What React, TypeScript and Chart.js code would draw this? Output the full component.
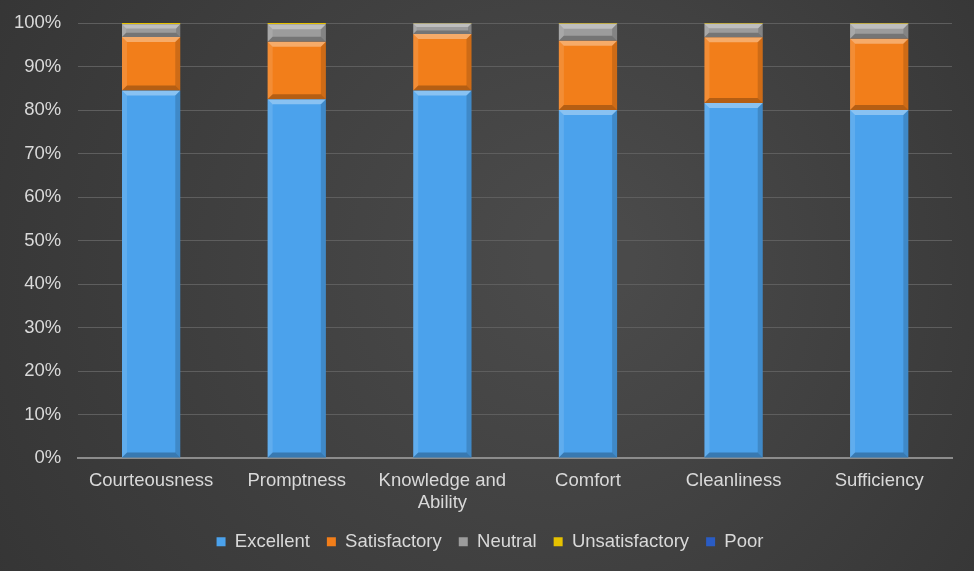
import React, { useEffect, useRef } from "react";
import { Chart, registerables } from "chart.js";

Chart.register(...registerables);

const categories = ["Courteousness", "Promptness", ["Knowledge and", "Ability"], "Comfort", "Cleanliness", "Sufficiency"];
const excellent = [84.5, 82.5, 84.5, 80.0, 81.6, 80.0];
const satisfactory = [12.3, 13.2, 13.0, 15.9, 15.1, 16.4];
const neutral = [2.9, 4.0, 2.4, 3.9, 3.1, 3.4];
const unsatisfactory = [0.3, 0.3, 0.1, 0.2, 0.2, 0.2];
const poor = [0, 0, 0, 0, 0, 0];
const seriesNames = ["Excellent", "Satisfactory", "Neutral", "Unsatisfactory", "Poor"];
const seriesColors = ["#4ba2ec", "#f27e1a", "#9c9c9c", "#e6c200", "#2a5cc4"];

const FONT = "'Liberation Sans', Arial, sans-serif";

const bgPlugin = {
  id: "bgGrad",
  beforeDraw(chart: any) {
    const { ctx, width, height } = chart;
    const g = ctx.createRadialGradient(width * 0.6, height * 0.45, 50, width * 0.5, height * 0.5, width * 0.75);
    g.addColorStop(0, "#4a4a4a");
    g.addColorStop(1, "#303030");
    ctx.save();
    ctx.fillStyle = g;
    ctx.fillRect(0, 0, width, height);
    ctx.restore();
  },
};

const legendShift = {
  id: "legendShift",
  afterLayout(chart: any) {
    if (chart.legend) {
      chart.legend.left += 9;
      chart.legend.right += 9;
    }
  },
};

const bevelPlugin = {
  id: "bevel",
  afterDatasetsDraw(chart: any) {
    const ctx = chart.ctx;
    chart.data.datasets.forEach((ds: any, di: number) => {
      const meta = chart.getDatasetMeta(di);
      meta.data.forEach((bar: any) => {
        const { x, y, base, width } = bar.getProps(["x", "y", "base", "width"], true);
        const top = Math.min(y, base);
        const bot = Math.max(y, base);
        const h = bot - top;
        if (h < 3) return;
        const l = x - width / 2;
        const r = x + width / 2;
        const b = Math.min(5, h / 3);
        ctx.save();
        ctx.fillStyle = "rgba(255,255,255,0.35)";
        ctx.beginPath();
        ctx.moveTo(l, top); ctx.lineTo(r, top); ctx.lineTo(r - b, top + b); ctx.lineTo(l + b, top + b); ctx.closePath();
        ctx.fill();
        ctx.fillStyle = "rgba(255,255,255,0.12)";
        ctx.beginPath();
        ctx.moveTo(l, top); ctx.lineTo(l + b, top + b); ctx.lineTo(l + b, bot - b); ctx.lineTo(l, bot); ctx.closePath();
        ctx.fill();
        ctx.fillStyle = "rgba(0,0,0,0.15)";
        ctx.beginPath();
        ctx.moveTo(r, top); ctx.lineTo(r - b, top + b); ctx.lineTo(r - b, bot - b); ctx.lineTo(r, bot); ctx.closePath();
        ctx.fill();
        ctx.fillStyle = "rgba(0,0,0,0.25)";
        ctx.beginPath();
        ctx.moveTo(l, bot); ctx.lineTo(r, bot); ctx.lineTo(r - b, bot - b); ctx.lineTo(l + b, bot - b); ctx.closePath();
        ctx.fill();
        ctx.restore();
      });
    });
  },
};

export default function App() {
  const ref = useRef<HTMLCanvasElement>(null);
  useEffect(() => {
    const values = [excellent, satisfactory, neutral, unsatisfactory, poor];
    const chart = new Chart(ref.current!, {
      type: "bar",
      data: {
        labels: categories as any,
        datasets: seriesNames.map((n, i) => ({
          label: n,
          data: values[i],
          backgroundColor: seriesColors[i],
          borderWidth: 0,
          barPercentage: 0.4,
          categoryPercentage: 1.0,
        })),
      },
      options: {
        animation: false,
        responsive: false,
        maintainAspectRatio: false,
        layout: { padding: { left: 10, right: 22, top: 23, bottom: 10 } },
        scales: {
          x: {
            stacked: true,
            grid: { display: false, drawTicks: false },
            border: { display: true, color: "#8c8c8c", width: 2 },
            ticks: { color: "#d9d9d9", font: { size: 18.5, family: FONT }, padding: 12, maxRotation: 0 },
            afterFit: (s: any) => { s.height -= 11; },
          },
          y: {
            stacked: true,
            min: 0,
            max: 100,
            ticks: {
              stepSize: 10,
              color: "#d9d9d9",
              font: { size: 18.5, family: FONT },
              padding: 17,
              callback: (v: any) => v + "%",
            },
            grid: { color: "#5e5e5e", lineWidth: 1, drawTicks: false },
            border: { display: false },
            afterFit: (s: any) => { s.width -= 13; s.paddingTop = 0; s.paddingBottom = 0; },
          },
        },
        plugins: {
          legend: {
            position: "bottom",
            labels: {
              color: "#d9d9d9",
              font: { size: 18.5, family: FONT },
              boxWidth: 9,
              boxHeight: 9,
              padding: 17,
            },
          },
          tooltip: { enabled: false },
        },
      },
      plugins: [bgPlugin, bevelPlugin, legendShift],
    });
    return () => chart.destroy();
  }, []);
  return (
    <div style={{ position: "absolute", left: 0, top: 0, width: 974, height: 571 }}>
      <canvas ref={ref} width={974} height={571} style={{ width: 974, height: 571 }} />
    </div>
  );
}
